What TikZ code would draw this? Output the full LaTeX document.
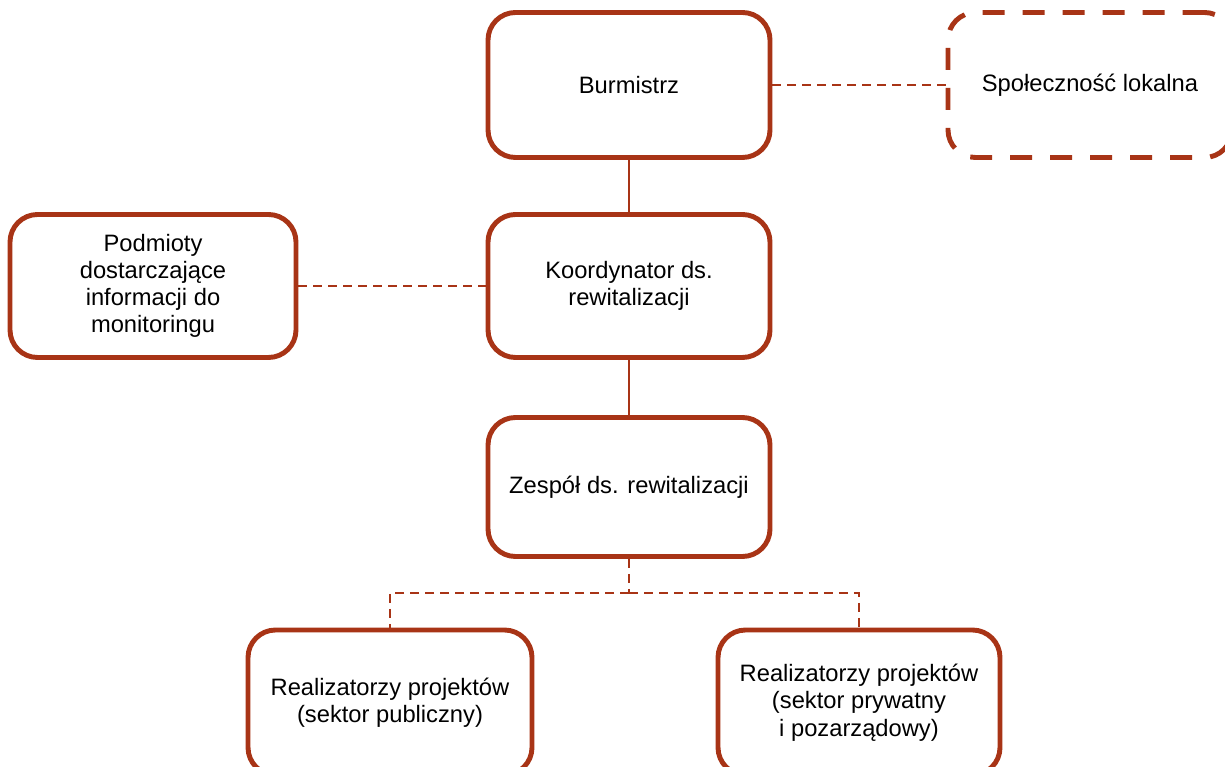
\documentclass[tikz,border=0pt]{standalone}
\usepackage{fontspec}
\setmainfont{Liberation Sans}
\usetikzlibrary{positioning}
\definecolor{rust}{RGB}{168,52,22}

\begin{document}
\begin{tikzpicture}
		[auto,
		block/.style ={rectangle, draw=rust, line width=2.8pt, fill=white, align=center, rounded corners=0.55cm, minimum width=5.64cm, minimum height=2.86cm, font=\fontsize{13.5pt}{15.5pt}\selectfont},
		outer/.style ={block, dash pattern=on 0.44cm off 0.36cm},
		link/.style ={draw=rust, line width=1.2pt},
		loose/.style ={link, dash pattern=on 0.18cm off 0.12cm},
		]
		\useasboundingbox (0,0) rectangle (24.5,-15.34);

		\draw (12.58,-1.70) node[block, minimum height=2.90cm] (B) {Burmistrz};
		\draw (21.80,-1.70) node[outer, minimum width=5.68cm, minimum height=2.90cm] (SL) {Społeczność lokalna};
		\draw (12.58,-5.72) node[block] (K) {Koordynator ds.\\rewitalizacji};
		\draw (3.06,-5.72) node[block, minimum width=5.72cm] (P) {Podmioty\\dostarczające\\informacji do\\monitoringu};
		\draw (12.58,-9.74) node[block, minimum height=2.78cm] (Z) {Zespół ds. rewitalizacji};
		\draw (7.80,-14.05) node[block, minimum width=5.68cm, minimum height=2.90cm] (RP) {Realizatorzy projektów\\(sektor publiczny)};
		\draw (17.18,-14.05) node[block, minimum height=2.90cm] (RN) {Realizatorzy projektów\\(sektor prywatny\\i pozarządowy)};
		\coordinate (split) at (12.58,-11.86);

		\path[link]
		(B) -- (K)
		(K) -- (Z);
		\path[loose]
		(B) -- (SL)
		(P) -- (K)
		(Z) -- (split)
		(split) -| (RP)
		(split) -| (RN);

	\end{tikzpicture}
\end{document}
